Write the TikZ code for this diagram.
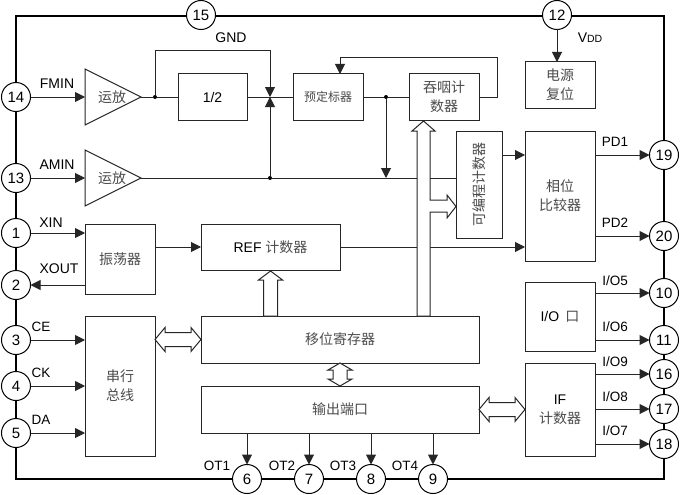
\documentclass[tikz,border=0pt]{standalone}
\usepackage{fontspec}
\setmainfont{Liberation Sans}
\newfontfamily\cjk{Noto Sans CJK SC}
\usetikzlibrary{arrows.meta,shapes.geometric,calc}
\definecolor{cjkgray}{gray}{0.3}
\definecolor{ln}{gray}{0.15}
\newcommand\zh[1]{{\cjk\color{cjkgray}#1}}
\newcommand\harrow[2]{\draw[blk] (#1) -- ++(10,-12) -- ++(0,5) -- ($(#2)+(-10,-7)$) -- ++(0,-5) -- (#2) -- ++(-10,12) -- ++(0,-5) -- ($(#1)+(10,7)$) -- ++(0,5) -- cycle;}
\newcommand\varrow[2]{\draw[blk] (#1) -- ++(12,7) -- ++(-5,0) -- ($(#2)+(7,-7)$) -- ++(5,0) -- (#2) -- ++(-12,-7) -- ++(5,0) -- ($(#1)+(-7,7)$) -- ++(-5,0) -- cycle;}
\tikzset{
  every node/.style={font=\fontsize{14}{19}\selectfont},
  bx/.style={draw=ln,line width=1pt,fill=white,inner sep=0pt,outer sep=0pt,align=center},
  pin/.style={circle,draw=black,line width=1pt,fill=white,minimum size=29pt,inner sep=0pt,outer sep=0pt,font=\fontsize{15}{15}\selectfont},
  amp/.style={isosceles triangle,isosceles triangle apex angle=53.13,isosceles triangle stretches=true,draw=ln,line width=1pt,minimum width=56pt,minimum height=56pt,inner sep=0pt,outer sep=0pt,anchor=lower side,fill=white},
  wire/.style={draw=ln,line width=1pt},
  arr/.style={wire,-{Triangle[length=10pt,width=10pt]}},
  jdot/.style={circle,fill=black,minimum size=4pt,inner sep=0pt,outer sep=0pt},
  blk/.style={draw=ln,line width=1pt,fill=white,line join=miter},
  lab/.style={inner sep=0pt,outer sep=0pt,font=\fontsize{13.5}{14}\selectfont},
}
\begin{document}
\begin{tikzpicture}[x=1pt,y=-1pt]
\useasboundingbox (0,0) rectangle (680,495);
\fill[white] (0,0) rectangle (680,495);
\draw[line width=2pt,black] (16,16) rectangle (664,479);
% pins
\node[pin] (p15) at (201,15) {15};
\node[pin] (p12) at (557,15) {12};
\node[pin] (p14) at (16,97) {14};
\node[pin] (p13) at (16,178) {13};
\node[pin] (p1) at (16,233) {1};
\node[pin] (p2) at (16,285) {2};
\node[pin] (p3) at (16,340) {3};
\node[pin] (p4) at (16,386) {4};
\node[pin] (p5) at (16,433) {5};
\node[pin] (p6) at (247,479) {6};
\node[pin] (p7) at (309,479) {7};
\node[pin] (p8) at (371,479) {8};
\node[pin] (p9) at (433,479) {9};
\node[pin] (p19) at (664,155) {19};
\node[pin] (p20) at (664,236) {20};
\node[pin] (p10) at (664,293) {10};
\node[pin] (p11) at (664,340) {11};
\node[pin] (p16) at (664,374) {16};
\node[pin] (p17) at (664,409) {17};
\node[pin] (p18) at (664,444) {18};
% blocks
\node[amp] (t1) at (85,97) {};
\node[amp] (t2) at (85,178) {};
\node[inner sep=0pt] (t1txt) at (112,97) {\zh{运放}};
\node[inner sep=0pt] (t2txt) at (112,178) {\zh{运放}};
\node[bx,minimum width=69pt,minimum height=46pt] (half) at (212.5,97) {1/2};
\node[bx,minimum width=70pt,minimum height=46pt] (pre) at (328,97) {\fontsize{12}{16}\selectfont\zh{预定标器}};
\node[bx,minimum width=70pt,minimum height=46pt] (swl) at (444,97) {\zh{吞咽计}\\\zh{数器}};
\node[bx,minimum width=70pt,minimum height=46pt] (pwr) at (560,85) {\zh{电源}\\\zh{复位}};
\node[bx,minimum width=46pt,minimum height=107pt] (prog) at (479,184.5) {\rotatebox{90}{\zh{可编程计数器}}};
\node[bx,minimum width=70pt,minimum height=130pt] (phase) at (560,196) {\zh{相位}\\\zh{比较器}};
\node[bx,minimum width=70pt,minimum height=70pt] (osc) at (120,259) {\zh{振荡器}};
\node[bx,minimum width=139pt,minimum height=46pt] (ref) at (270.5,247) {REF \zh{计数器}};
\node[bx,minimum width=70pt,minimum height=140pt] (ser) at (120,386) {\zh{串行}\\\zh{总线}};
\node[bx,minimum width=278pt,minimum height=47pt] (shift) at (340,339.5) {\zh{移位寄存器}};
\node[bx,minimum width=278pt,minimum height=47pt] (out) at (340,409.5) {\zh{输出端口}};
\node[bx,minimum width=70pt,minimum height=69pt] (io) at (560,316.5) {I/O\, \zh{口}};
\node[bx,minimum width=70pt,minimum height=93pt] (ifc) at (560,409.5) {IF\\\zh{计数器}};
% junctions
\node[jdot] (j1) at (155,97) {};
\node[jdot] (j2) at (270,178) {};
\node[jdot] (j3) at (386,97) {};
\coordinate (m) at (270,97);
\coordinate (g1) at (155,51);
\coordinate (g2) at (270,51);
\coordinate (fb1) at (497,97);
\coordinate (fb2) at (497,58);
\coordinate (fb3) at (340,58);
\coordinate (bus) at (386,178);
% wires
\draw[arr] (p14.east) -- (t1.lower side);
\draw[arr] (p13.east) -- (t2.lower side);
\draw[wire] (t1.apex) -- (j1) -- (half.west);
\draw[wire] (half.east) -- (pre.west);
\draw[arr] (j1) -- (g1) -- (g2) -- (m);
\draw[wire] (t2.apex) -- (j2) -- (t2.apex -| prog.west);
\draw[arr] (j2) -- (m);
\draw[wire] (pre.east) -- (j3) -- (swl.west);
\draw[arr] (j3) -- (bus);
\draw[arr] (swl.east) -- (fb1) -- (fb2) -- (fb3) -- (fb3 |- pre.north);
\draw[arr] (p12.south) -- (pwr.north -| p12.south);
\draw[arr] (prog.east |- p19.west) -- (phase.west |- p19.west);
\draw[arr] (p1.east) -- (osc.west |- p1.east);
\draw[arr] (osc.east |- ref.west) -- (ref.west);
\draw[arr] (osc.west |- p2.east) -- (p2.east);
\draw[arr] (ref.east) -- (phase.west |- ref.east);
\draw[arr] (p3.east) -- (ser.west |- p3.east);
\draw[arr] (p4.east) -- (ser.west |- p4.east);
\draw[arr] (p5.east) -- (ser.west |- p5.east);
\draw[arr] (out.south -| p6.north) -- (p6.north);
\draw[arr] (out.south -| p7.north) -- (p7.north);
\draw[arr] (out.south -| p8.north) -- (p8.north);
\draw[arr] (out.south -| p9.north) -- (p9.north);
\draw[arr] (phase.east |- p19.west) -- (p19.west);
\draw[arr] (phase.east |- p20.west) -- (p20.west);
\draw[arr] (io.east |- p10.west) -- (p10.west);
\draw[arr] (io.east |- p11.west) -- (p11.west);
\draw[arr] (ifc.east |- p16.west) -- (p16.west);
\draw[arr] (ifc.east |- p17.west) -- (p17.west);
\draw[arr] (ifc.east |- p18.west) -- (p18.west);
% block arrows
\draw[blk] (417,316) -- (417,131) -- (412,131) -- (423.5,121) -- (435,131) -- (430,131) -- (430,200) -- (447,200) -- (447,195) -- (456,206.5) -- (447,218) -- (447,212) -- (430,212) -- (430,316) -- cycle;
\draw[blk] ($(ref.south)+(0,1)$) -- ++(12,9) -- ++(-5,0) -- ($(ref.south |- shift.north)+(7,0)$) -- ($(ref.south |- shift.north)+(-7,0)$) -- ($(ref.south)+(-7,10)$) -- ++(-5,0) -- cycle;
\harrow{ser.east |- shift.west}{shift.west}
\harrow{out.east}{ifc.west |- out.east}
\varrow{shift.south}{out.north}
% labels
\node[lab,font=\fontsize{14}{14}\selectfont] (lfmin) at (57,84) {FMIN};
\node[lab,font=\fontsize{14}{14}\selectfont] (lamin) at (57,165) {AMIN};
\node[lab,font=\fontsize{14}{14}\selectfont] (lxin) at (51,223) {XIN};
\node[lab,font=\fontsize{14}{14}\selectfont] (lxout) at (59,269) {XOUT};
\node[lab] (lce) at (41,327) {CE};
\node[lab] (lck) at (41,373) {CK};
\node[lab] (lda) at (41,420) {DA};
\node[lab,font=\fontsize{14}{14}\selectfont] (lgnd) at (231,38) {GND};
\node[lab,font=\fontsize{14}{14}\selectfont] (lvdd) at (590,38) {V\fontsize{10.5}{14}\selectfont DD};
\node[lab] (lo1) at (217,466) {OT1};
\node[lab] (lo2) at (282,466) {OT2};
\node[lab] (lo3) at (343,466) {OT3};
\node[lab] (lo4) at (405,466) {OT4};
\node[lab] (lpd1) at (615,142) {PD1};
\node[lab] (lpd2) at (615,223) {PD2};
\node[lab] (l5) at (615,281) {I/O5};
\node[lab] (l6) at (615,327) {I/O6};
\node[lab] (l9) at (615,362) {I/O9};
\node[lab] (l8) at (615,397) {I/O8};
\node[lab] (l7) at (615,431) {I/O7};
\end{tikzpicture}
\end{document}
